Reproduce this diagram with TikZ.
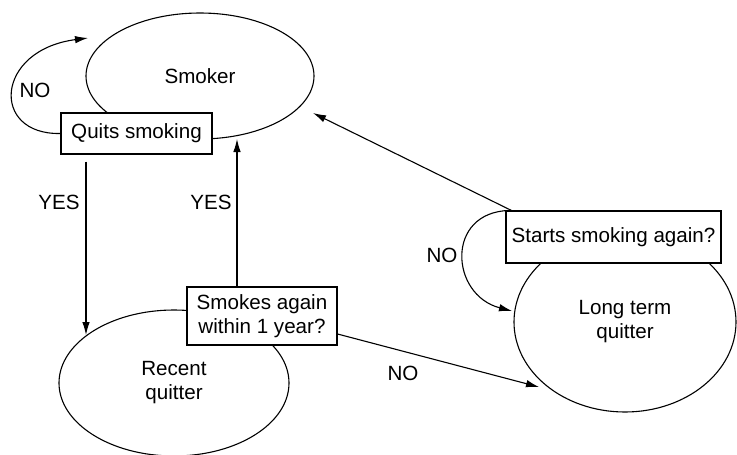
\documentclass[tikz,border=0pt]{standalone}
\usepackage{fontspec}
\setmainfont{Liberation Sans}
\usetikzlibrary{arrows.meta,shapes.geometric}
\begin{document}
\begin{tikzpicture}[x=1pt,y=-1pt,line width=1.1pt,
		font=\fontsize{20.6}{24}\selectfont,
		state/.style={draw,ellipse,inner sep=0pt,align=center},
		test/.style={draw,fill=white,rectangle,inner sep=0pt,align=center},
		arr/.style={-{Latex[length=13pt,width=7.5pt]}}]
		\useasboundingbox (0,0) rectangle (737,455);

		% states
		\node[state,minimum width=228pt,minimum height=126pt] (smoker) at (200,76) {Smoker};
		\node[state,minimum width=230pt,minimum height=146pt] (recent) at (174,383) {Recent\\quitter};
		\node[state,minimum width=222pt,minimum height=180pt] (longterm) at (625,322) {Long term\\quitter};

		% tests
		\node[test,minimum width=151pt,minimum height=41pt] (quits) at (136.5,133.5) {Quits smoking};
		\node[test,minimum width=150pt,minimum height=58pt] (smokes) at (262,316) {Smokes again\\within 1 year?};
		\node[test,minimum width=215pt,minimum height=52pt] (starts) at (613.5,237) {Starts smoking again?};

		% labels
		\node (noquit) at (35,90) {NO};
		\node (yesquit) at (59,202) {YES};
		\node (yesagain) at (211,202) {YES};
		\node (noagain) at (403,373) {NO};
		\node (nostart) at (442,255) {NO};

		% free ends
		\coordinate (looptip) at (88,38);
		\coordinate (downtip) at (86,335);
		\coordinate (uptip) at (237,139);
		\coordinate (backtip) at (313,113);
		\coordinate (longtip) at (512,311);
		\coordinate (notip) at (539,387);

		\draw[arr] (quits.west) .. controls (-10,135) and (-5,50) .. (looptip);
		\draw[arr,shorten <=7pt] (quits.south -| downtip) -- (downtip);
		\draw[arr] (smokes.north -| uptip) -- (uptip);
		\draw[arr] ([yshift=-18pt]smokes.east) -- (notip);
		\draw[arr] ([xshift=6pt]starts.north west) -- (backtip);
		\draw[arr] ([xshift=4pt]starts.north west) .. controls (445,212) and (450,295) .. (longtip);
	\end{tikzpicture}
\end{document}
